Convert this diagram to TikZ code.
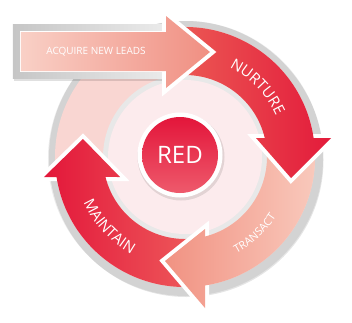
\documentclass[tikz,border=0pt]{standalone}
\usepackage{fontspec}
\setmainfont{Open Sans}
\newfontfamily\arcfont[LetterSpace=10]{Open Sans}
\usetikzlibrary{decorations.text}
\definecolor{rimout}{HTML}{D3D3D3}
\definecolor{palering}{HTML}{F9D6D2}
\definecolor{rimin}{HTML}{E8E8E8}
\definecolor{glowA}{HTML}{FCEBED}
\definecolor{glowB}{HTML}{F8D9DD}
\definecolor{nuL}{HTML}{EC5C55}
\definecolor{nuR}{HTML}{E31B3B}
\definecolor{trL}{HTML}{F19282}
\definecolor{trR}{HTML}{F9CBBE}
\definecolor{mtL}{HTML}{E3173A}
\definecolor{mtR}{HTML}{EE5C5C}
\definecolor{acL}{HTML}{F9D0C6}
\definecolor{acR}{HTML}{F08F82}
\definecolor{frL}{HTML}{C6C6C6}
\definecolor{frR}{HTML}{EBEBEB}
\definecolor{redT}{HTML}{E3153A}
\definecolor{redB}{HTML}{EE5A6C}
\pgfdeclareradialshading{innerglow}{\pgfpoint{0bp}{0bp}}{color(0bp)=(glowA); color(30bp)=(glowA); color(50bp)=(glowB)}
\tikzset{
  headline/.style={draw=white, line width=8pt, line join=miter},
  arclabel/.style={decorate, decoration={text along path, text align=center, text={#1}}},
  flat/.style={text=white, inner sep=0pt}
}
\begin{document}
\begin{tikzpicture}[x=1pt,y=1pt]
\useasboundingbox (-185,-165) rectangle (167,157);
% ring background with soft shadow
\fill[black,opacity=0.10] (1.5,-3) circle (137);
\fill[black,opacity=0.08] (0.5,-1.5) circle (137.5);
\fill[rimout] (0,0) circle (136);
\fill[palering] (0,0) circle (130);
\fill[rimin] (0,0) circle (82);
\path[shading=innerglow] (0,0) circle (77);
% MAINTAIN
\draw[headline] (-141,-20) -- (-102,18) -- (-65,-20) -- cycle;
\shade[left color=mtL, right color=mtR] (278:130) arc[start angle=278,end angle=188.85,radius=130]
  -- (-141,-20) -- (-102,18) -- (-65,-20) -- (194.1:82) arc[start angle=194.1,end angle=278,radius=82] -- cycle;
% TRANSACT
\draw[headline] (20,-72) -- (-20,-104) -- (20,-151) -- cycle;
\shade[left color=trL, right color=trR] (6:130) arc[start angle=6,end angle=-81.15,radius=130]
  -- (20,-151) -- (-20,-104) -- (20,-72) -- (-75.88:82) arc[start angle=-75.88,end angle=6,radius=82] -- cycle;
% NURTURE
\draw[headline] (71,19) -- (106,-21) -- (146,19) -- cycle;
\shade[left color=nuL, right color=nuR] (97:130) arc[start angle=97,end angle=8.4,radius=130]
  -- (146,19) -- (106,-21) -- (71,19) -- (13.4:82) arc[start angle=13.4,end angle=97,radius=82] -- cycle;
% ACQUIRE NEW LEADS
\fill[black,opacity=0.12] (-171,76) rectangle (-18,131);
\shade[left color=frL, right color=frR] (-172,79) rectangle (-18,133);
\draw[white, line width=1.2pt] (-164,86) rectangle (-18,125);
\draw[headline] (-19,141) -- (25,105) -- (-19,69) -- cycle;
\shade[left color=acL, right color=acR] (-164,86) -- (-19,86) -- (-19,69) -- (25,105) -- (-19,141) -- (-19,125) -- (-164,125) -- cycle;
\node[flat] (acq) at (-89,105.5) {\fontsize{10}{12}\selectfont ACQUIRE NEW LEADS};
% curved labels
\path[arclabel={|\arcfont\fontsize{15}{15}\selectfont\color{white}|NURTURE}] (78:100) arc[start angle=78,end angle=10,radius=100];
\path[arclabel={|\arcfont\fontsize{11}{11}\selectfont\color{white}|TRANSACT}] (-75:109) arc[start angle=-75,end angle=-20,radius=109];
\path[arclabel={|\arcfont\fontsize{15}{15}\selectfont\color{white}|MAINTAIN}] (195:111) arc[start angle=195,end angle=250,radius=111];
% centre
\fill[black,opacity=0.10] (-4,0) circle (43.5);
\fill[white] (-5,2) circle (42.5);
\shade[top color=redT, bottom color=redB] (-5,2) circle (38);
\node[flat] (red) at (-5,2) {\fontsize{24}{24}\selectfont RED};
\end{tikzpicture}
\end{document}
